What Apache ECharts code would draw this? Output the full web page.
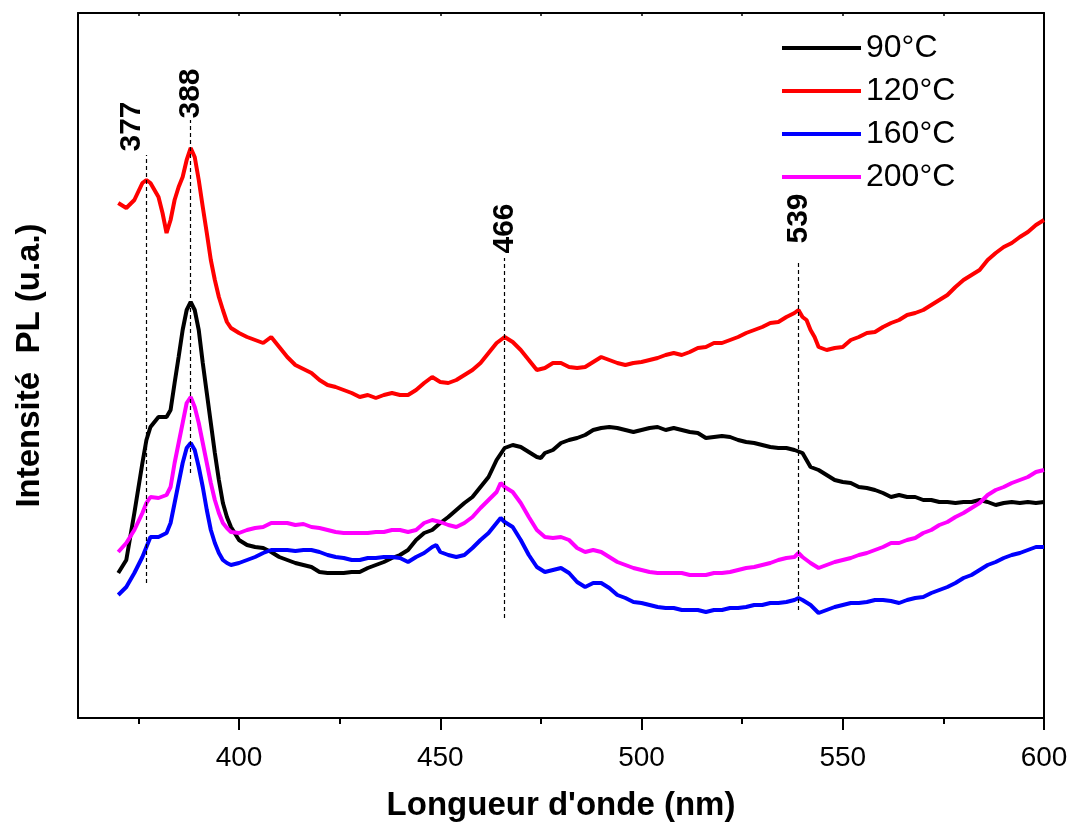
<!DOCTYPE html>
<html><head><meta charset="utf-8">
<script src="https://cdn.jsdelivr.net/npm/echarts@6/dist/echarts.min.js"></script>
<style>html,body{margin:0;padding:0;background:#fff}#c{width:1071px;height:823px}</style>
</head><body><div id="c"></div>
<script>
// ---- data (wavelength nm, PL intensity a.u.) ----
const seriesNames = ['90°C', '120°C', '160°C', '200°C'];
const xTickValues = [400, 450, 500, 550, 600];
const xMinorTickValues = [375, 425, 475, 525, 575];
const topTickValues = [375, 400, 425, 450, 475, 500, 525, 550, 575, 600];

const s90 = [[370,143],[372,156],[374,203],[376,253],[377,276],[378,289],[380,299],[382,299],[383,306],[384,333],[385,359],[386,386],[387,406],[388,414],[389,406],[390,386],[391,353],[392,323],[393,293],[394,263],[395,236],[396,213],[397,199],[398,189],[400,176],[402,171],[404,169],[406,168],[408,164],[410,159],[412,156],[414,153],[416,151],[418,149],[420,144],[422,143],[424,143],[426,143],[428,144],[430,144],[432,148],[434,151],[436,154],[438,158],[440,161],[442,166],[444,176],[446,183],[448,186],[450,193],[452,199],[454,206],[456,213],[458,219],[460,229],[462,239],[464,256],[466,268],[468,271],[470,269],[472,264],[474,259],[475,258],[476,263],[478,266],[480,273],[482,276],[484,278],[486,281],[488,286],[490,288],[492,289],[494,288],[496,286],[498,284],[500,286],[502,288],[504,289],[506,286],[508,288],[510,286],[512,284],[514,283],[516,278],[518,279],[520,280],[522,279],[524,276],[526,274],[528,273],[530,271],[532,269],[534,268],[536,268],[538,266],[540,263],[541,256],[542,249],[544,246],[546,241],[548,236],[550,234],[552,233],[554,229],[556,228],[558,226],[560,223],[562,219],[564,221],[566,219],[568,219],[570,216],[572,216],[574,214],[576,214],[578,213],[580,214],[582,214],[584,216],[586,214],[588,211],[590,213],[592,214],[594,213],[596,214],[598,213],[600,214]];

const s120 = [[370,513],[372,508],[374,516],[376,533],[377,536],[378,533],[380,519],[381,503],[382,483],[383,496],[384,516],[385,529],[386,539],[387,556],[388,568],[389,559],[390,536],[391,509],[392,483],[393,456],[394,436],[395,419],[396,406],[397,394],[398,388],[400,383],[402,379],[404,376],[406,373],[408,379],[410,369],[412,359],[414,351],[416,347],[418,343],[420,336],[422,331],[424,329],[426,326],[428,323],[430,319],[432,321],[434,318],[436,321],[438,323],[440,321],[442,321],[444,326],[446,333],[448,339],[450,334],[452,333],[454,336],[456,341],[458,346],[460,353],[462,363],[464,373],[466,379],[468,374],[470,366],[472,356],[474,346],[476,348],[478,353],[480,353],[482,349],[484,348],[486,349],[488,354],[490,359],[492,356],[494,353],[496,351],[498,353],[500,354],[502,356],[504,358],[506,361],[508,363],[510,361],[512,364],[514,368],[516,369],[518,373],[520,373],[522,376],[524,379],[526,383],[528,386],[530,389],[532,393],[534,394],[536,399],[538,403],[539,406],[540,399],[541,396],[542,386],[543,379],[544,369],[546,366],[548,368],[550,369],[552,376],[554,379],[556,383],[558,384],[560,389],[562,393],[564,396],[566,401],[568,403],[570,406],[572,411],[574,416],[576,421],[578,429],[580,436],[582,441],[584,446],[586,456],[588,463],[590,469],[592,473],[594,479],[596,484],[598,491],[600,496]];

const s160 = [[370,121],[372,129],[374,143],[376,159],[377,169],[378,179],[380,179],[382,183],[383,193],[384,213],[385,233],[386,253],[387,268],[388,273],[389,266],[390,249],[391,229],[392,206],[393,186],[394,173],[395,163],[396,156],[397,153],[398,151],[400,153],[402,156],[404,159],[406,163],[408,166],[410,166],[412,166],[414,165],[416,166],[418,166],[420,164],[422,161],[424,159],[426,158],[428,156],[430,156],[432,158],[434,158],[436,159],[438,159],[440,158],[442,154],[444,159],[446,163],[448,169],[449,171],[450,164],[452,161],[454,159],[456,161],[458,168],[460,176],[462,183],[464,193],[465,198],[466,194],[468,189],[470,176],[472,161],[474,149],[476,144],[478,146],[480,148],[482,143],[484,134],[486,129],[488,133],[490,133],[492,128],[494,121],[496,118],[498,114],[500,113],[502,111],[504,109],[506,108],[508,108],[510,106],[512,106],[514,106],[516,104],[518,106],[520,106],[522,108],[524,108],[526,109],[528,111],[530,111],[532,113],[534,113],[536,114],[538,116],[539,118],[540,116],[542,111],[544,103],[546,106],[548,109],[550,111],[552,113],[554,113],[556,114],[558,116],[560,116],[562,115],[564,113],[566,116],[568,118],[570,119],[572,123],[574,126],[576,129],[578,133],[580,138],[582,141],[584,146],[586,151],[588,154],[590,158],[592,161],[594,163],[596,166],[598,169],[600,169]];

const s200 = [[370,164],[372,173],[374,186],[376,203],[377,213],[378,219],[380,218],[382,221],[383,229],[384,253],[385,273],[386,293],[387,313],[388,319],[389,309],[390,293],[391,273],[392,253],[393,233],[394,216],[395,203],[396,193],[397,188],[398,184],[400,183],[402,186],[404,188],[406,189],[408,193],[410,193],[412,193],[414,191],[416,192],[418,189],[420,188],[422,186],[424,184],[426,183],[428,183],[430,183],[432,183],[434,184],[436,184],[438,186],[440,186],[442,184],[444,186],[446,193],[448,196],[450,194],[452,191],[454,189],[456,193],[458,199],[460,208],[462,216],[464,224],[465,233],[466,229],[468,224],[470,213],[472,199],[474,186],[476,179],[478,178],[480,179],[482,176],[484,168],[486,164],[488,166],[490,164],[492,159],[494,154],[496,151],[498,148],[500,146],[502,144],[504,143],[506,143],[508,143],[510,143],[512,141],[514,141],[516,141],[518,143],[520,143],[522,144],[524,146],[526,148],[528,149],[530,151],[532,153],[534,156],[536,158],[538,159],[539,163],[540,159],[542,153],[544,148],[546,151],[548,154],[550,156],[552,158],[554,161],[556,163],[558,166],[560,169],[562,173],[564,173],[566,176],[568,178],[570,183],[572,186],[574,191],[576,194],[578,199],[580,203],[582,208],[584,213],[586,221],[588,226],[590,229],[592,233],[594,236],[596,239],[598,244],[600,246]];

// peak annotations
const peakNm = [377, 388, 466, 539];
const peakLineBottom = [133, 243, 98, 106];
const peakLineTop = [561, 596, 458, 456];
const peakLabelBase = [564, 597, 462, 472];

// ---- chart ----
const FONT = '"Liberation Sans", Arial, Helvetica, sans-serif';
const colors = ['#000000', '#ff0000', '#0000ff', '#ff00ff'];
const dataSets = [s90, s120, s160, s200];

const lineSeries = dataSets.map((d, i) => ({
  name: seriesNames[i], type: 'line', data: d, xAxisIndex: 0, yAxisIndex: 0,
  symbol: 'none', showSymbol: false,
  lineStyle: { width: 4, color: colors[i] }, itemStyle: { color: colors[i] },
  z: 2
}));

const annotSeries = {
  name: 'peaks', type: 'scatter', xAxisIndex: 0, yAxisIndex: 0,
  data: peakNm.map((x, i) => ({
    value: [x, peakLabelBase[i]],
    label: i === 0 ? { verticalAlign: 'bottom' } : {}
  })),
  symbolSize: 1, itemStyle: { color: 'rgba(0,0,0,0)', opacity: 1 }, silent: true,
  label: {
    show: true, formatter: p => String(p.value[0]), position: 'top', distance: 0,
    rotate: 90, align: 'left', verticalAlign: 'middle',
    fontSize: 30, fontWeight: 'bold', color: '#000000', opacity: 1, fontFamily: FONT
  },
  markLine: {
    silent: true, symbol: ['none', 'none'], label: { show: false },
    lineStyle: { type: [4, 3], width: 1.2, color: '#000', opacity: 1 },
    emphasis: { disabled: true },
    data: peakNm.map((x, i) => [{ coord: [x, peakLineBottom[i]] }, { coord: [x, peakLineTop[i]] }])
  },
  z: 3
};

const chart = echarts.init(document.getElementById('c'), null, { renderer: 'canvas' });
chart.setOption({
  animation: false,
  backgroundColor: '#ffffff',
  textStyle: { fontFamily: FONT },
  grid: { left: 78, right: 27, top: 13, bottom: 105, containLabel: false, outerBoundsMode: 'none' },
  legend: {
    data: seriesNames, orient: 'vertical', left: 777, top: 27,
    itemWidth: 79, itemHeight: 4, itemGap: 11, icon: 'rect',
    textStyle: { fontSize: 32, color: '#000', fontFamily: FONT, lineHeight: 32 }
  },
  xAxis: [
    {
      type: 'value', min: 360, max: 600, position: 'bottom',
      axisLine: { show: true, onZero: false, lineStyle: { color: '#000', width: 2 } },
      axisTick: { show: true, customValues: xTickValues, length: 12, lineStyle: { width: 2, color: '#000' } },
      axisLabel: { show: true, customValues: xTickValues, fontSize: 28, color: '#000', margin: 26, fontFamily: FONT },
      splitLine: { show: false },
      name: "Longueur d'onde (nm)", nameLocation: 'middle', nameGap: 71,
      nameTextStyle: { fontSize: 33, fontWeight: 'bold', color: '#000', fontFamily: FONT }
    },
    {
      type: 'value', min: 360, max: 600, position: 'bottom',
      axisLine: { show: false, onZero: false },
      axisTick: { show: true, customValues: xMinorTickValues, length: 6, lineStyle: { width: 2, color: '#000' } },
      axisLabel: { show: false }, splitLine: { show: false }
    },
    {
      type: 'value', min: 360, max: 600, position: 'top',
      axisLine: { show: true, onZero: false, lineStyle: { color: '#000', width: 2 } },
      axisTick: { show: true, inside: true, customValues: topTickValues, length: 3, lineStyle: { width: 1.5, color: '#000' } },
      axisLabel: { show: false }, splitLine: { show: false }
    }
  ],
  yAxis: [
    {
      type: 'value', min: -2, max: 703, position: 'left',
      axisLine: { show: true, onZero: false, lineStyle: { color: '#000', width: 2 } },
      axisTick: { show: false }, axisLabel: { show: false }, splitLine: { show: false },
      name: 'Intensité  PL (u.a.)', nameLocation: 'middle', nameGap: 32,
      nameTextStyle: { fontSize: 33, fontWeight: 'bold', color: '#000', fontFamily: FONT }
    },
    {
      type: 'value', min: -2, max: 703, position: 'right',
      axisLine: { show: true, onZero: false, lineStyle: { color: '#000', width: 2 } },
      axisTick: { show: false }, axisLabel: { show: false }, splitLine: { show: false }
    }
  ],
  series: lineSeries.concat([annotSeries])
});
</script>
</body></html>
